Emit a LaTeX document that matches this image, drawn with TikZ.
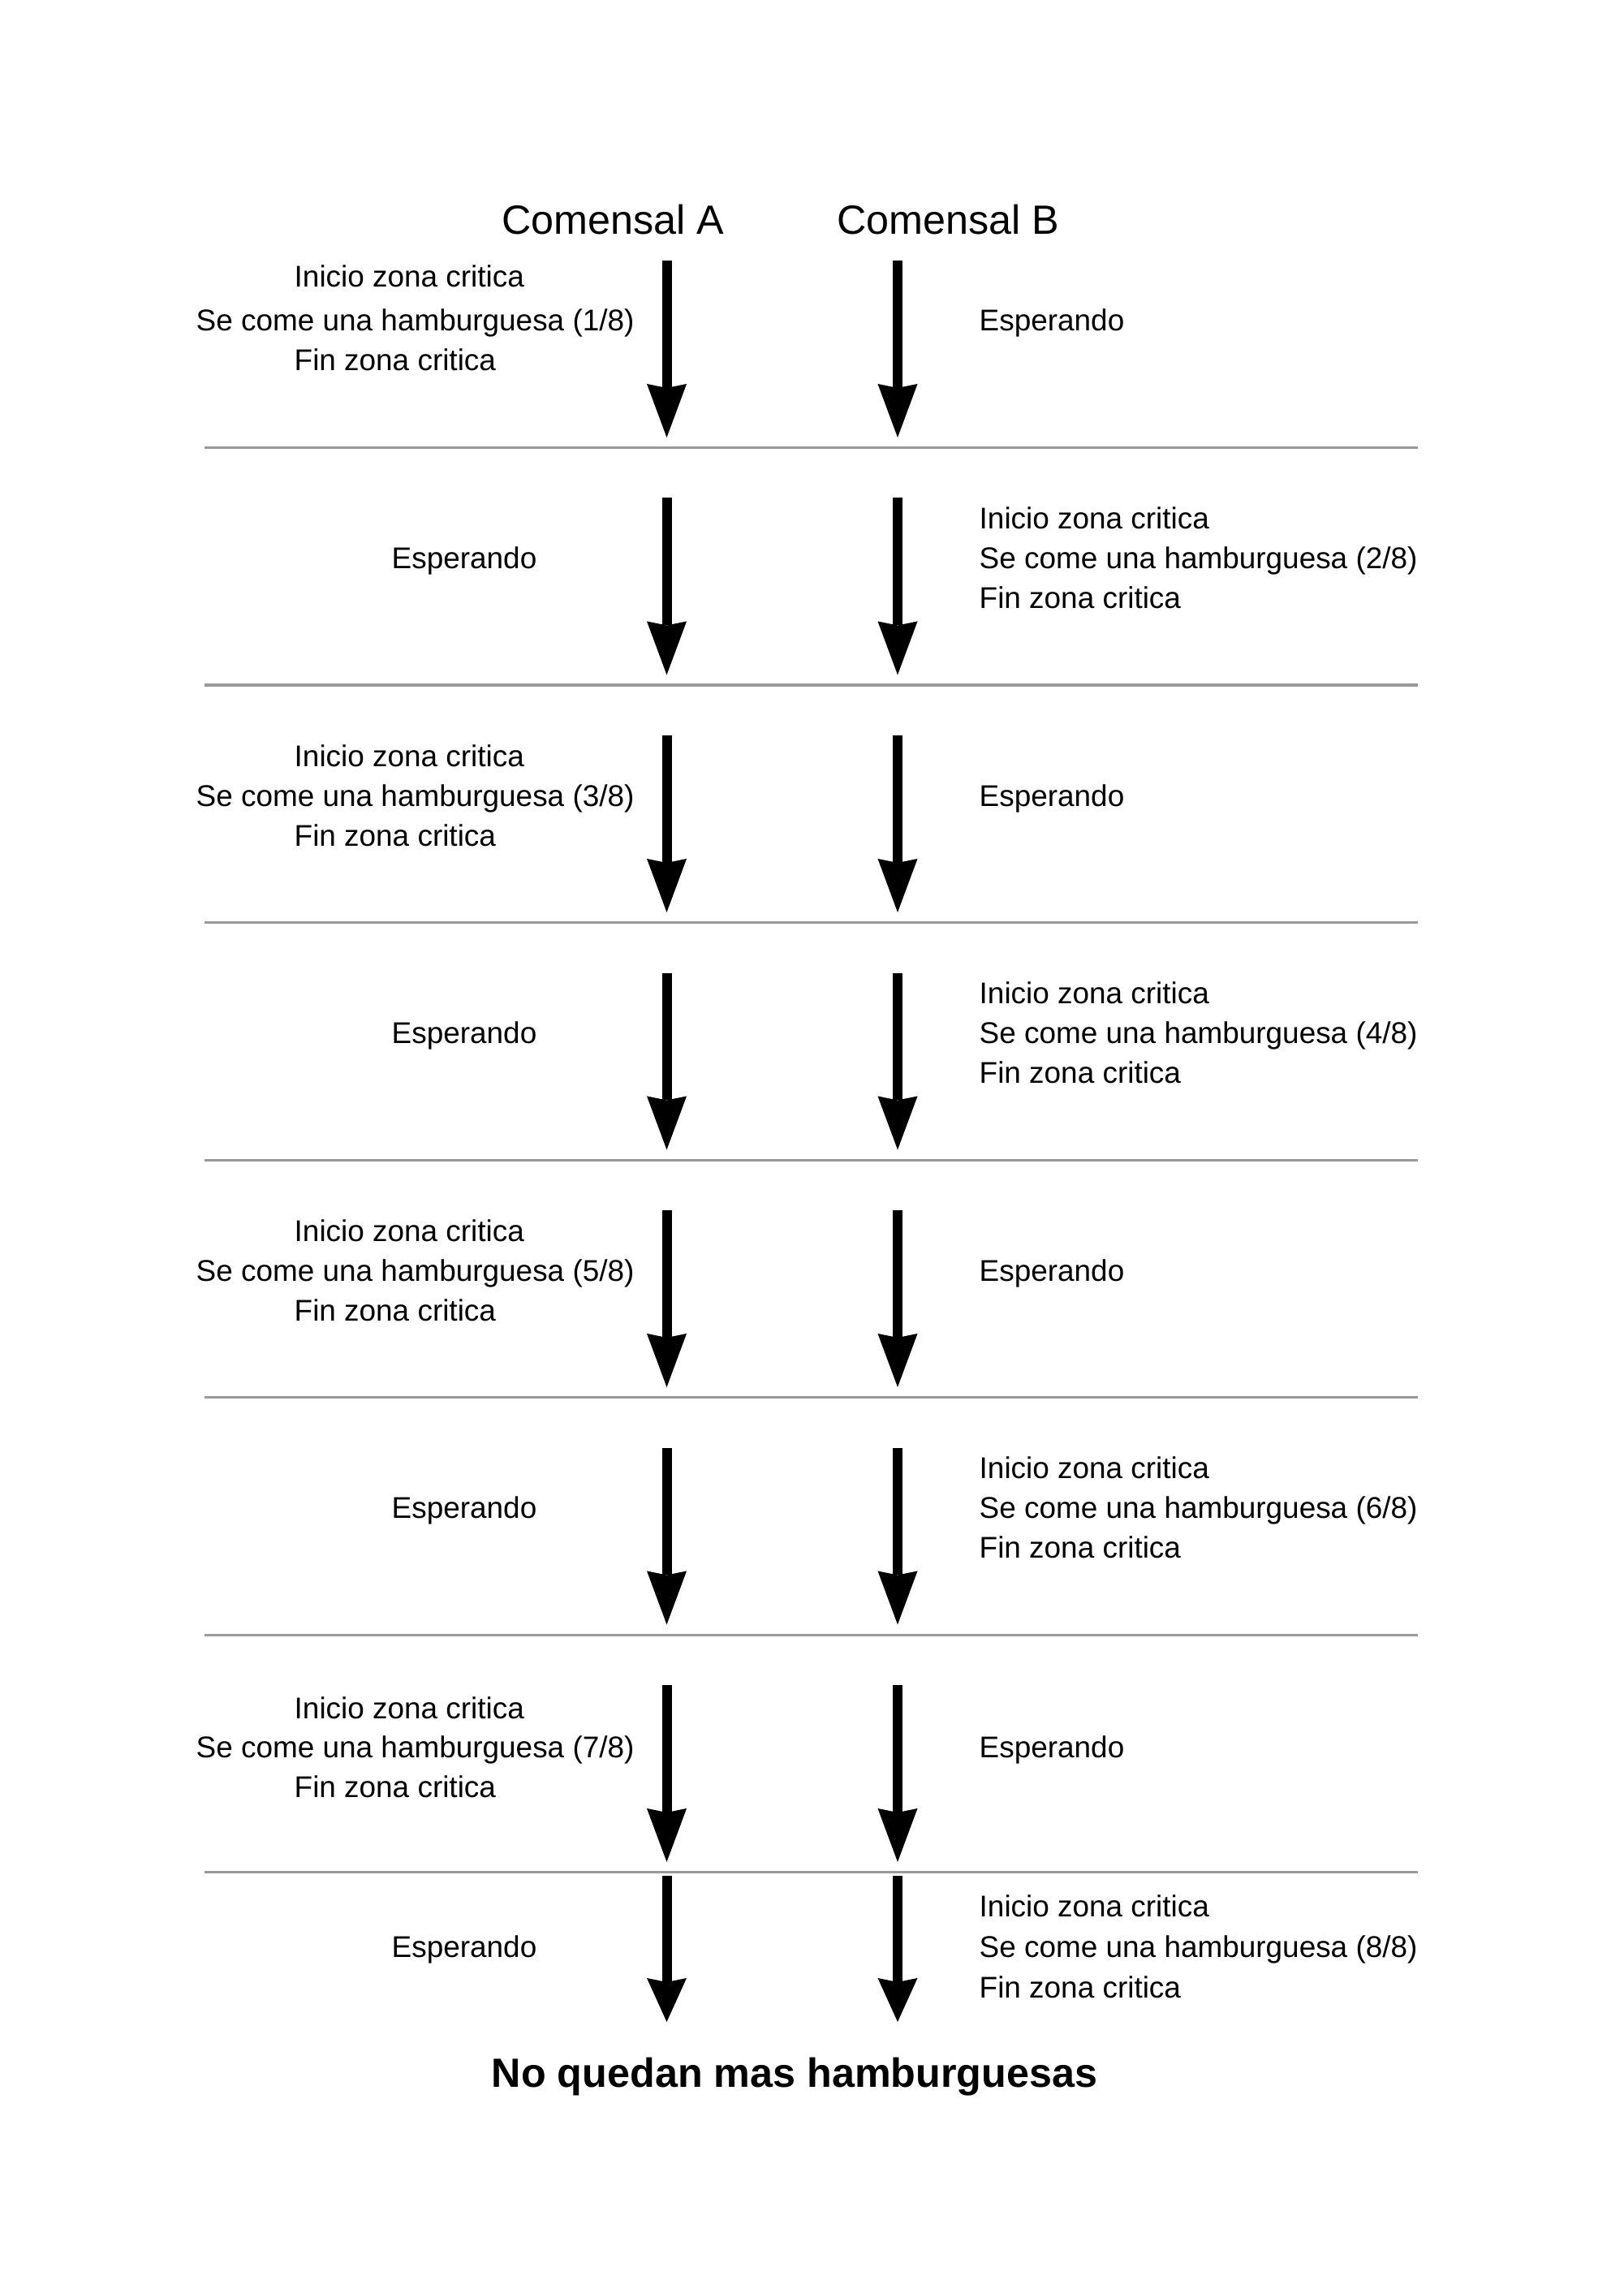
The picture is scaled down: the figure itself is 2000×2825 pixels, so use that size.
\documentclass[tikz,border=0pt]{standalone}
\usepackage{fontspec}
\setmainfont{Liberation Sans}
\usetikzlibrary{arrows.meta}
\definecolor{sepgris}{HTML}{999999}
\begin{document}
\begin{tikzpicture}[x=0.01cm,y=-0.01cm,
	flecha/.style={line width=0.12cm,-{Stealth[length=#1,width=0.49cm,inset=0.05cm,line width=0pt]}},
	flecha/.default=0.66cm,
	separador/.style={line width=0.03cm,sepgris},
	texto/.style={anchor=base west,inner sep=0pt,font=\fontsize{10.5}{12}\selectfont},
	titulo/.style={anchor=base,inner sep=0pt,font=\fontsize{14.3}{16}\selectfont}]
	\useasboundingbox (0,0) rectangle (2000,2825);
	\node[titulo] (tituloA) at (755,289) {Comensal A};
	\node[titulo] (tituloB) at (1168,289) {Comensal B};
	% turnos: flechas de cada comensal
	\foreach \i in {0,...,6}{
		\coordinate (A\i) at (821.5,{259+292.5*\i+62});
		\coordinate (A\i f) at (821.5,{259+292.5*\i+280});
		\coordinate (B\i) at (1106,{259+292.5*\i+62});
		\coordinate (B\i f) at (1106,{259+292.5*\i+280});
		\draw[flecha] (A\i)--(A\i f);
		\draw[flecha] (B\i)--(B\i f);
		\draw[separador] (252,{551.5+292.5*\i})--(1747,{551.5+292.5*\i});
	}
	\coordinate (A7) at (821.5,2311); \coordinate (A7f) at (821.5,2491);
	\coordinate (B7) at (1106,2311); \coordinate (B7f) at (1106,2491);
	\draw[flecha=0.54cm] (A7)--(A7f);
	\draw[flecha=0.54cm] (B7)--(B7f);
	% come el comensal A
	\foreach \i/\n/\a/\b/\c in {0/1/95/149/198,2/3/100/149/198,4/5/100/149/198,6/7/103/151/200}{
		\node[texto] (ini\n) at (362,{259+292.5*\i+\a}) {Inicio zona critica};
		\node[texto] (come\n) at (241,{259+292.5*\i+\b}) {Se come una hamburguesa (\n/8)};
		\node[texto] (fin\n) at (362,{259+292.5*\i+\c}) {Fin zona critica};
		\node[texto] (esp\n) at (1206,{259+292.5*\i+\b}) {Esperando};
	}
	% come el comensal B
	\foreach \i/\n/\a/\b/\c in {1/2/100/149/198,3/4/100/149/198,5/6/100/149/198,7/8/55/105/155}{
		\node[texto] (ini\n) at (1206,{259+292.5*\i+\a}) {Inicio zona critica};
		\node[texto] (come\n) at (1206,{259+292.5*\i+\b}) {Se come una hamburguesa (\n/8)};
		\node[texto] (fin\n) at (1206,{259+292.5*\i+\c}) {Fin zona critica};
		\node[texto] (esp\n) at (482,{259+292.5*\i+\b}) {Esperando};
	}
	\node[titulo,font=\fontsize{14.3}{16}\selectfont\bfseries] (final) at (979,2571) {No quedan mas hamburguesas};
\end{tikzpicture}
\end{document}
